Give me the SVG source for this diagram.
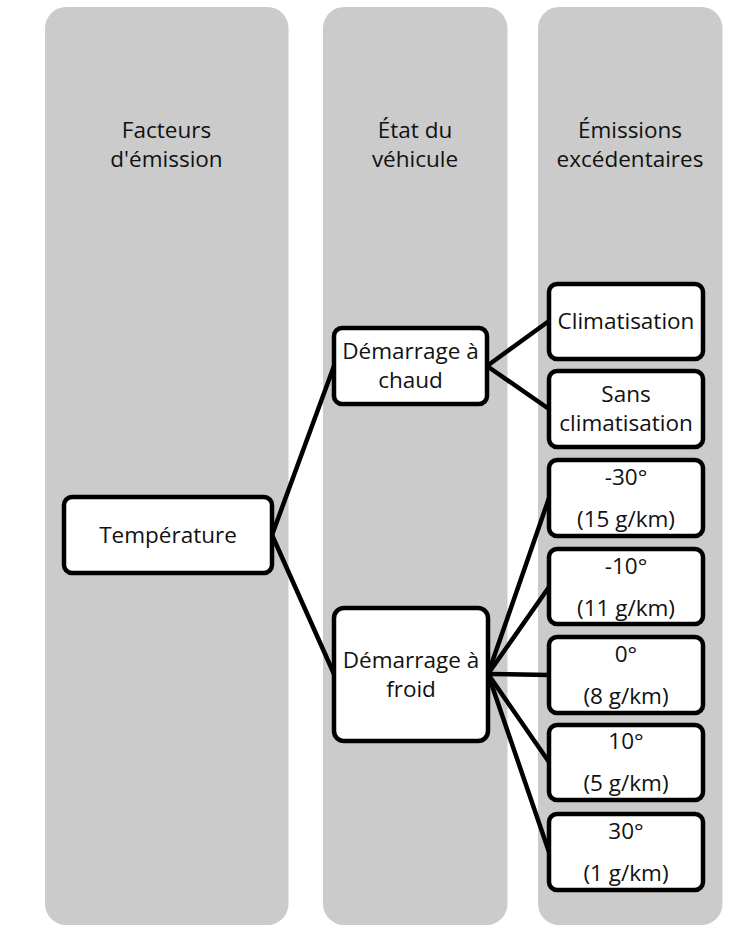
<svg xmlns="http://www.w3.org/2000/svg" width="751" height="926" viewBox="0 0 751 926">
<style>
.col{fill:#cbcbcb;}
.box{fill:#ffffff;stroke:#000000;stroke-width:4.5;}
.t{font-family:"Open Sans","Liberation Sans",sans-serif;font-size:22.5px;fill:#111111;text-anchor:middle;}
.c{stroke:#000000;stroke-width:4.5;fill:none;stroke-linecap:round;}
</style>
<g id="columns">
<g id="col1"><rect class="col" x="45" y="7" width="243.5" height="918" rx="21"/>
<text class="t" x="166.5" y="138">Facteurs</text><text class="t" x="166.5" y="167">d'émission</text></g>
<g id="col2"><rect class="col" x="323" y="7" width="184.5" height="918" rx="21"/>
<text class="t" x="415" y="138">État du</text><text class="t" x="415" y="167">véhicule</text></g>
<g id="col3"><rect class="col" x="538" y="7" width="184.5" height="918" rx="21"/>
<text class="t" x="630" y="138">Émissions</text><text class="t" x="630" y="167">excédentaires</text></g>
</g>
<g id="connectors">
<line class="c" x1="272" y1="535" x2="334" y2="366"/>
<line class="c" x1="272" y1="535" x2="334" y2="674"/>
<line class="c" x1="487" y1="366" x2="549" y2="321"/>
<line class="c" x1="487" y1="366" x2="549" y2="409"/>
<line class="c" x1="488" y1="674" x2="549" y2="498"/>
<line class="c" x1="488" y1="674" x2="549" y2="587"/>
<line class="c" x1="488" y1="674" x2="549" y2="675"/>
<line class="c" x1="488" y1="674" x2="549" y2="762"/>
<line class="c" x1="488" y1="674" x2="549" y2="852"/>
</g>
<g id="temperature"><rect class="box" x="64" y="497" width="208" height="76" rx="8"/>
<text class="t" x="168" y="543">Température</text></g>
<g id="chaud"><rect class="box" x="334" y="328" width="153" height="76" rx="8"/>
<text class="t" x="410.5" y="358.5">Démarrage à</text><text class="t" x="410.5" y="387.5">chaud</text></g>
<g id="froid"><rect class="box" x="334" y="608" width="154" height="133" rx="10"/>
<text class="t" x="411" y="667.5">Démarrage à</text><text class="t" x="411" y="696.5">froid</text></g>
<g id="clim"><rect class="box" x="549" y="284" width="154" height="75" rx="8"/>
<text class="t" x="626" y="329">Climatisation</text></g>
<g id="sansclim"><rect class="box" x="549" y="371" width="154" height="76" rx="8"/>
<text class="t" x="626" y="402">Sans</text><text class="t" x="626" y="431">climatisation</text></g>
<g id="m30"><rect class="box" x="549" y="460" width="154" height="76" rx="8"/>
<text class="t" x="626" y="485">-30°</text><text class="t" x="626" y="527">(15 g/km)</text></g>
<g id="m10"><rect class="box" x="549" y="549" width="154" height="75" rx="8"/>
<text class="t" x="626" y="574">-10°</text><text class="t" x="626" y="616">(11 g/km)</text></g>
<g id="z0"><rect class="box" x="549" y="637" width="154" height="76" rx="8"/>
<text class="t" x="626" y="662">0°</text><text class="t" x="626" y="704">(8 g/km)</text></g>
<g id="p10"><rect class="box" x="549" y="725" width="154" height="75" rx="8"/>
<text class="t" x="626" y="749">10°</text><text class="t" x="626" y="791">(5 g/km)</text></g>
<g id="p30"><rect class="box" x="549" y="814" width="154" height="76" rx="8"/>
<text class="t" x="626" y="839">30°</text><text class="t" x="626" y="881">(1 g/km)</text></g>
</svg>
